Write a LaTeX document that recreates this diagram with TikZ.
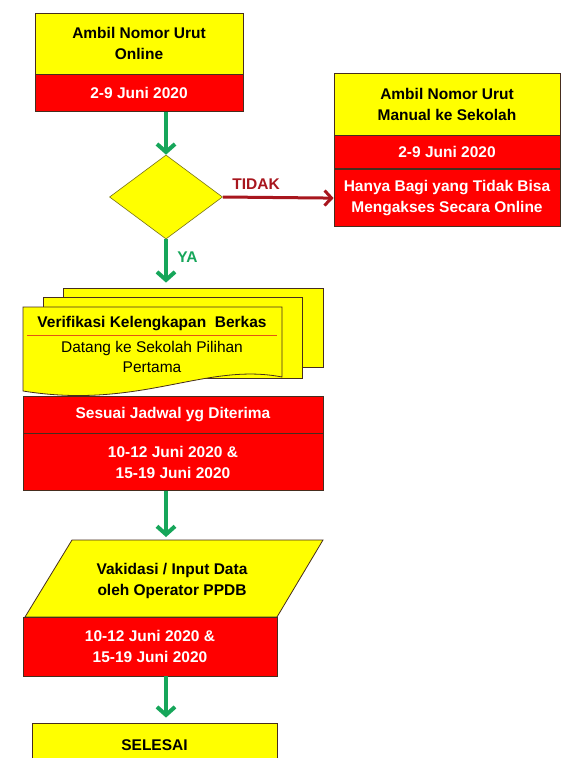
\documentclass[tikz,border=0pt]{standalone}
\usepackage{fontspec}
\setmainfont{Liberation Sans}
\usetikzlibrary{positioning, shapes.geometric, arrows.meta}

\definecolor{boxyellow}{RGB}{255,255,0}
\definecolor{boxred}{RGB}{255,0,0}
\definecolor{flowgreen}{RGB}{22,166,90}
\definecolor{nored}{RGB}{168,22,30}
\definecolor{edgedark}{RGB}{70,45,30}
\definecolor{rulered}{RGB}{225,85,20}

\begin{document}
\begin{tikzpicture}[x = 1pt, y = -1pt, font = \fontsize{15.5}{21}\selectfont\bfseries,
	part/.style = {rectangle, draw = edgedark, line width = 0.8pt, inner sep = 0pt, align = center},
	ypart/.style = {part, fill = boxyellow},
	rpart/.style = {part, fill = boxred, text = white},
	go/.style = {draw = flowgreen, line width = 4pt, -{Straight Barb[length = 8pt, width = 18pt, line width = 4pt]}},
	nogo/.style = {draw = nored, line width = 3pt, -{Straight Barb[length = 7pt, width = 15pt, line width = 3pt]}}]

	% Definitions
	
	\def\flowx{166}		% x of the main flow line
	
	\clip (0, 0) rectangle (562, 758);
	\fill [white] (0, 0) rectangle (562, 758);
	
	% Draw online branch
	
	\node [ypart, minimum width = 208pt, minimum height = 61pt] (online) at (139, 43.5) {Ambil Nomor Urut\\Online};
	\node [rpart, minimum width = 208pt, minimum height = 37pt, below = 0pt of online] (onlinedate) {2-9 Juni 2020};
	
	\node [diamond, draw = olive!80!black, fill = boxyellow, line width = 0.6pt, inner sep = 0pt, minimum width = 113pt, minimum height = 84pt] (decide) at (\flowx, 197) {};
	
	% Draw manual branch
	
	\node [ypart, minimum width = 226pt, minimum height = 62pt] (manual) at (447, 104) {Ambil Nomor Urut\\Manual ke Sekolah};
	\node [rpart, minimum width = 226pt, minimum height = 33pt, below = 0pt of manual] (manualdate) {2-9 Juni 2020};
	\node [rpart, minimum width = 226pt, minimum height = 57pt, below = 0pt of manualdate] (manualnote) {Hanya Bagi yang Tidak Bisa\\Mengakses Secara Online};
	
	% Draw document stack
	
	\node [ypart, minimum width = 260pt, minimum height = 79pt] (sheetc) at (193, 327.5) {};
	\node [ypart, minimum width = 259pt, minimum height = 81pt] (sheetb) at (172.5, 337.5) {};
	\draw [draw = edgedark, line width = 0.8pt, fill = boxyellow] (23, 307) -- (282, 307) -- (282, 377) .. controls (205, 362) and (140, 410) .. (23, 391) -- cycle;
	
	\node (verify) at (152, 324) {Verifikasi Kelengkapan\ \ Berkas};
	\draw [rulered, line width = 1pt] (27, 335) -- (277, 335);
	\node [align = center, font = \fontsize{15.5}{20}\selectfont\mdseries] (visit) at (152, 357) {Datang ke Sekolah Pilihan\\Pertama};
	
	\node [rpart, minimum width = 300pt, minimum height = 37pt] (schedule) at (173, 414.5) {Sesuai Jadwal yg Diterima};
	\node [rpart, minimum width = 300pt, minimum height = 57pt, below = 0pt of schedule] (scheddate) {10-12 Juni 2020 \&\\15-19 Juni 2020};
	
	% Draw input step
	
	\draw [draw = edgedark, line width = 0.8pt, fill = boxyellow] (72, 540) -- (323, 540) -- (277, 617) -- (25, 617) -- cycle;
	\coordinate (inputtop) at (\flowx, 540);
	\node [align = center] (input) at (172, 581) {Vakidasi / Input Data\\oleh Operator PPDB};
	\node [rpart, minimum width = 254pt, minimum height = 59pt] (inputdate) at (150, 646.5) {10-12 Juni 2020 \&\\15-19 Juni 2020};
	
	\node [ypart, minimum width = 245pt, minimum height = 44pt] (done) at (154.5, 745) {SELESAI};
	
	% Draw connectors
	
	\draw [go] (onlinedate.south -| decide) -- (decide.north);
	\draw [nogo] (decide.east) -- node [pos = 0.3, above = 3pt, text = nored] (no) {TIDAK} (manualnote.west);
	\draw [go, shorten > = 5pt] (decide.south) -- node [pos = 0.37, right = 6pt, text = flowgreen] (yes) {YA} (decide |- sheetc.north);
	\draw [go, shorten > = 3pt] (scheddate.south -| decide) -- (inputtop);
	\draw [go, shorten > = 5pt] (inputdate.south -| decide) -- (done.north -| decide);
	
\end{tikzpicture}
\end{document}
